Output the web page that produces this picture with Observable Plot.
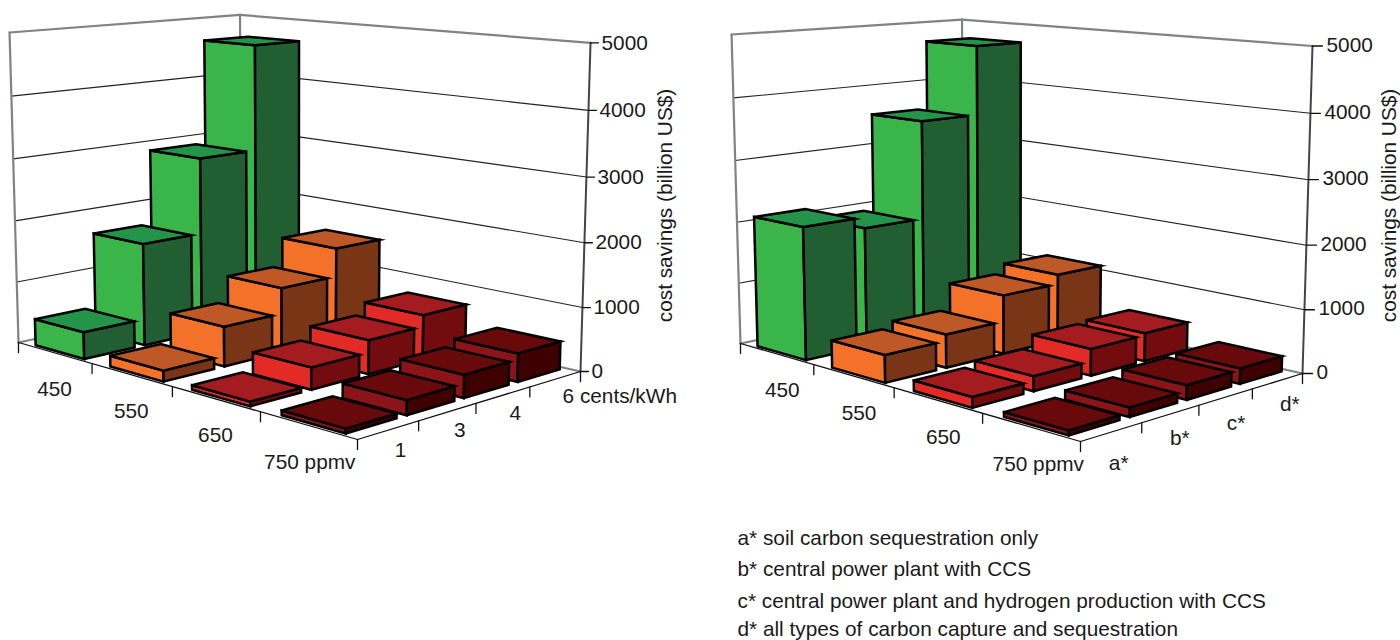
<!DOCTYPE html>
<html><head><meta charset="utf-8">
<style>html,body{margin:0;padding:0;background:#fff}svg{display:block}</style>
<script src="https://cdn.jsdelivr.net/npm/d3@7"></script>
<script src="https://cdn.jsdelivr.net/npm/@observablehq/plot@0.6"></script>
</head><body><script>
// ---------- data ----------
const ppmvLabels = ["450", "550", "650", "750 ppmv"];
const priceLabels = ["1", "3", "4", "6 cents/kWh"];
const caseLabels = ["a*", "b*", "c*", "d*"];
const zTicks = [0, 1000, 2000, 3000, 4000, 5000];
const priceSavings450 = [430, 1660, 2900, 4650];
const priceSavings550 = [170, 630, 1040, 1500];
const priceSavings650 = [70, 340, 530, 710];
const priceSavings750 = [70, 220, 350, 440];
const caseSavings450 = [2120, 1940, 3550, 4700];
const caseSavings550 = [430, 530, 950, 1100];
const caseSavings650 = [160, 230, 420, 450];
const caseSavings750 = [70, 140, 220, 240];
const legendLines = [
  "a* soil carbon sequestration only",
  "b* central power plant with CCS",
  "c* central power plant and hydrogen production with CCS",
  "d* all types of carbon capture and sequestration"
];
const axisTitle = "cost savings (billion US$)";
const rowColors = [
  {front: "#39B54A", top: "#23944A", side: "#215F33"},
  {front: "#F47129", top: "#BF5827", side: "#7A3517"},
  {front: "#E22A27", top: "#A51C20", side: "#720C0F"},
  {front: "#8B1418", top: "#680A0B", side: "#3F0000"}
];

// ---------- camera: maps (u, v, value) to the picture ----------
function camera(L, F, R, B, V, topLeftY) {
  const [x0,y0]=L,[x1,y1]=F,[x2,y2]=R,[x3,y3]=B;
  const dx1=x1-x2,dx2=x3-x2,sx=x0-x1+x2-x3,dy1=y1-y2,dy2=y3-y2,sy=y0-y1+y2-y3;
  const den=dx1*dy2-dx2*dy1, g=(sx*dy2-dx2*sy)/den, h=(dx1*sy-sx*dy1)/den;
  const a=x1-x0+g*x1,b=x3-x0+h*x3,d=y1-y0+g*y1,e=y3-y0+h*y3;
  const k=(topLeftY-y0)/(5000*(V[1]-topLeftY));
  return (u,v,z=0)=>{
    const w=g*u+h*v+1+k*z;
    return [(a*u+b*v+x0+k*z*V[0])/w,(d*u+e*v+y0+k*z*V[1])/w];
  };
}

const faces=[],grid=[],walls=[],axes=[],zAxes=[],labels=[],labelsStart=[],yLabels=[],titles=[];
const seg=(arr,id,p,q)=>{arr.push({id,x:p[0],y:p[1]},{id,x:q[0],y:q[1]});};
const poly=(id,fill,pts)=>{[...pts,pts[0]].forEach(p=>faces.push({id,fill,x:p[0],y:p[1]}));};

function panel(name,P,rows,colLabels,colOff,lastOff,rowOff,titleX,zLabel){
  seg(walls,name+"t1",P(0,0,5000),P(0,1,5000));
  seg(walls,name+"t2",P(0,1,5000),P(1,1,5000));
  seg(walls,name+"v1",P(0,0,0),P(0,0,5000));
  seg(walls,name+"v2",P(0,1,0),P(0,1,5000));
  seg(walls,name+"f1",P(0,0,0),P(0,1,0));
  seg(walls,name+"f2",P(0,1,0),P(1,1,0));
  zTicks.filter(z=>z>0&&z<5000).forEach(z=>{
    seg(grid,name+"g1"+z,P(0,0,z),P(0,1,z));
    seg(grid,name+"g2"+z,P(0,1,z),P(1,1,z));
  });
  // bars, painted from the far corner to the near corner
  rows.forEach((vals,i)=>{
    for(let j=3;j>=0;j--){
      const u0=(i+.18)/4,u1=(i+.84)/4,v0=(j+.07)/4,v1=(j+.9)/4,z=vals[j],c=rowColors[i],id=name+i+j;
      poly(id+"f",c.front,[P(u0,v0,0),P(u1,v0,0),P(u1,v0,z),P(u0,v0,z)]);
      poly(id+"s",c.side,[P(u1,v0,0),P(u1,v1,0),P(u1,v1,z),P(u1,v0,z)]);
      poly(id+"t",c.top,[P(u0,v0,z),P(u1,v0,z),P(u1,v1,z),P(u0,v1,z)]);
    }
  });
  // axes
  seg(axes,name+"a1",P(0,0,0),P(1,0,0));
  seg(axes,name+"a2",P(1,0,0),P(1,1,0));
  seg(zAxes,name+"a3",P(1,1,0),P(1,1,5000));
  [0,.25,.5,.75,1].forEach(t=>{
    const p=P(t,0,0),q=P(1,t,0);
    seg(axes,name+"tu"+t,p,[p[0],p[1]+10]);
    if(t>0) seg(axes,name+"tv"+t,q,[q[0],q[1]+10]);
  });
  zTicks.forEach(z=>{
    const p=P(1,1,z);
    seg(axes,name+"tz"+z,p,[p[0]+zLabel.tick,p[1]]);
    yLabels.push({x:p[0]+zLabel.dx,y:p[1]+zLabel.dy,text:String(z)});
  });
  ppmvLabels.forEach((s,i)=>{
    const p=P((i+.5)/4,0,0);
    labels.push({x:p[0]+rowOff[0]+(i==3?2:0),y:p[1]+rowOff[1],text:s});
  });
  colLabels.forEach((s,j)=>{
    const p=P(1,(j+.5)/4,0);
    if(j==3&&lastOff) labelsStart.push({x:p[0]+lastOff[0],y:p[1]+lastOff[1],text:s});
    else labels.push({x:p[0]+colOff[j][0],y:p[1]+colOff[j][1],text:s});
  });
  titles.push({x:titleX,y:205,text:axisTitle});
}

const leftCam=camera([18,342],[357,439],[580,371],[241,294],[292,9808],32);
const rightCam=camera([740,343],[1080,441],[1302,373],[963,296],[1014,9808],34);
panel("L",leftCam,[priceSavings450,priceSavings550,priceSavings650,priceSavings750],priceLabels,[[12,20],[12,18],[12,18]],[7,17],[0,37],665,{tick:8,dx:11,dy:0});
panel("R",rightCam,[caseSavings450,caseSavings550,caseSavings650,caseSavings750],caseLabels,[[7,31],[9,25],[10,26],[12,23]],null,[6,37],1389,{tick:10,dx:14,dy:-1});

const legendY=[538,569,601,629];
const legend=legendLines.map((text,i)=>({x:737,y:legendY[i],text}));
const font={fontFamily:"Liberation Sans, Arial, sans-serif",fontSize:20.8,fill:"#1a1a1a"};

const chart=Plot.plot({
  width:1400,height:640,margin:0,
  x:{domain:[0,1400],range:[0,1400],axis:null},
  y:{domain:[0,640],range:[0,640],axis:null},
  color:{type:"identity"},
  style:{background:"#fff"},
  marks:[
    Plot.line(grid,{x:"x",y:"y",z:"id",stroke:"#222",strokeWidth:1.1}),
    Plot.line(walls,{x:"x",y:"y",z:"id",stroke:"#808285",strokeWidth:2.2}),
    Plot.line(zAxes,{x:"x",y:"y",z:"id",stroke:"#444",strokeWidth:2}),
    Plot.line(faces,{x:"x",y:"y",z:"id",fill:"fill",stroke:"#000",strokeWidth:2.5,strokeLinejoin:"miter",strokeMiterlimit:6}),
    Plot.line(axes,{x:"x",y:"y",z:"id",stroke:"#111",strokeWidth:1.3}),
    Plot.text(labels,{x:"x",y:"y",text:"text",textAnchor:"middle",...font}),
    Plot.text(labelsStart,{x:"x",y:"y",text:"text",textAnchor:"start",...font}),
    Plot.text(yLabels,{x:"x",y:"y",text:"text",textAnchor:"start",...font}),
    Plot.text(titles,{x:"x",y:"y",text:"text",textAnchor:"middle",rotate:-90,...font}),
    Plot.text(legend,{x:"x",y:"y",text:"text",textAnchor:"start",...font})
  ]
});
document.body.appendChild(chart);
</script></body></html>
